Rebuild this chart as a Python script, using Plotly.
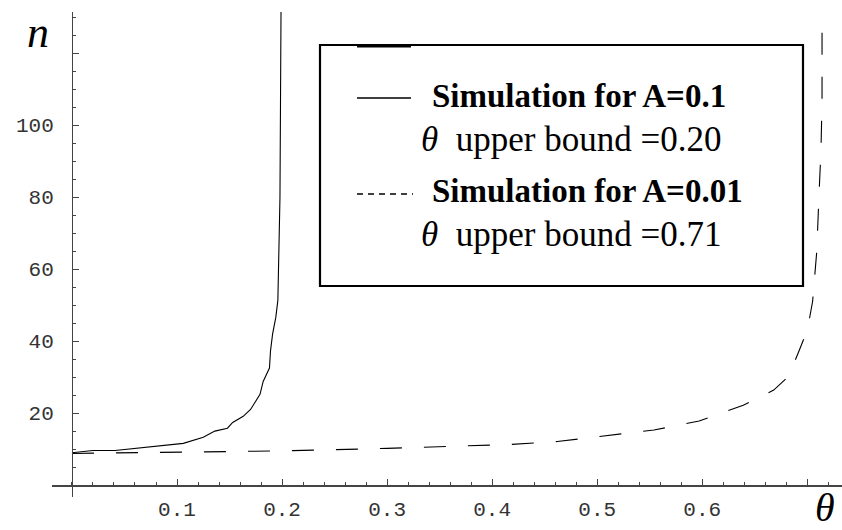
import plotly.graph_objects as go

# ---- data ----
theta_a = [0, 0.02, 0.041, 0.068, 0.106, 0.125, 0.136, 0.148, 0.153, 0.163, 0.170,
           0.179, 0.182, 0.188, 0.189, 0.191, 0.194, 0.196, 0.198, 0.199]
n_a = [9.0, 9.6, 9.6, 10.4, 11.6, 13.3, 15.0, 15.8, 17.4, 19.1, 21.0,
       25.2, 28.8, 32.5, 37.3, 42.0, 46.5, 51.3, 80.0, 132.0]

theta_b = [0, 0.1, 0.2, 0.3, 0.4, 0.418, 0.462, 0.508, 0.554, 0.597, 0.639, 0.668,
           0.682, 0.691, 0.700, 0.705, 0.709, 0.711, 0.713, 0.714, 0.714]
n_b = [8.8, 9.2, 9.5, 10.2, 11.0, 11.3, 12.1, 13.6, 15.3, 17.8, 22.2, 26.4,
       30.2, 36.5, 43.0, 51.0, 65.0, 80.0, 93.0, 107.0, 132.0]

x_tickvals = [0.1, 0.2, 0.3, 0.4, 0.5, 0.6, 0.7]
x_ticktext = ["0.1", "0.2", "0.3", "0.4", "0.5", "0.6", ""]
y_tickvals = [20, 40, 60, 80, 100, 120]
y_ticktext = ["20", "40", "60", "80", "100", ""]

legend_a = ["<b>Simulation for A=0.1</b>", "<i>θ</i>\u00a0\u00a0upper bound =0.20"]
legend_b = ["<b>Simulation for A=0.01</b>", "<i>θ</i>\u00a0\u00a0upper bound =0.71"]

# ---- layout geometry (pixels) ----
W, H = 842, 530
L, R, T, B = 52, 0, 12, 33
XMIN, XMAX = -0.019, 0.733
YMIN, YMAX = -3.3, 131.4
PW, PH = W - L - R, H - T - B


def px(x):
    return (x - L) / PW


def py(y):
    return (H - B - y) / PH


MONO = "Liberation Mono"
SERIF = "Liberation Serif"

fig = go.Figure()
fig.add_trace(go.Scatter(x=theta_a, y=n_a, mode="lines",
                         line=dict(color="black", width=1.1), showlegend=False))
fig.add_trace(go.Scatter(x=theta_b, y=n_b, mode="lines",
                         line=dict(color="black", width=1.1, dash="22px,22px"),
                         showlegend=False))

shapes = [
    dict(type="rect", xref="paper", yref="paper", x0=px(320), x1=px(803),
         y0=py(286), y1=py(45), line=dict(color="black", width=2.2)),
    dict(type="line", xref="paper", yref="paper", x0=px(357), x1=px(411),
         y0=py(46), y1=py(46), line=dict(color="black", width=3)),
    dict(type="line", xref="paper", yref="paper", x0=px(357), x1=px(411),
         y0=py(98), y1=py(98), line=dict(color="black", width=1.3)),
    dict(type="line", xref="paper", yref="paper", x0=px(357), x1=px(413),
         y0=py(194), y1=py(194), line=dict(color="black", width=1.3, dash="6px,5px")),
]

ann = []
for txt, x, y, size in [(legend_a[0], 430, 96, 33), (legend_a[1], 419, 139, 35),
                        (legend_b[0], 430, 191, 33), (legend_b[1], 419, 234, 35)]:
    ann.append(dict(text=txt, xref="paper", yref="paper", x=px(x), y=py(y),
                    xanchor="left", yanchor="middle", showarrow=False,
                    font=dict(family=SERIF, size=size, color="black")))
ann.append(dict(text="<i>n</i>", xref="paper", yref="paper", x=px(38), y=py(33),
                xanchor="center", yanchor="middle", showarrow=False,
                font=dict(family=SERIF, size=44, color="black")))
ann.append(dict(text="<i>θ</i>", xref="paper", yref="paper", x=px(825), y=py(508),
                xanchor="center", yanchor="middle", showarrow=False,
                font=dict(family=SERIF, size=40, color="black")))

fig.update_layout(
    template="none",
    width=W, height=H,
    margin=dict(l=L, r=R, t=T, b=B, pad=0, autoexpand=False),
    paper_bgcolor="white", plot_bgcolor="white",
    shapes=shapes, annotations=ann,
    xaxis=dict(range=[XMIN, XMAX], showgrid=False, zeroline=False, automargin=False,
               showline=True, linecolor="#444", linewidth=1.4,
               anchor="free", position=(0 - YMIN) / (YMAX - YMIN),
               ticks="inside", ticklen=6, tickcolor="#444", tickwidth=1,
               tickvals=x_tickvals, ticktext=x_ticktext, ticklabelstandoff=4,
               tickfont=dict(family=MONO, size=21, color="#333"),
               minor=dict(dtick=0.02, tick0=0, ticks="inside", ticklen=3,
                          tickcolor="#444", tickwidth=1)),
    yaxis=dict(range=[YMIN, YMAX], showgrid=False, zeroline=False, automargin=False,
               showline=True, linecolor="#444", linewidth=1.4,
               anchor="free", position=(0 - XMIN) / (XMAX - XMIN),
               ticks="inside", ticklen=6, tickcolor="#444", tickwidth=1,
               tickvals=y_tickvals, ticktext=y_ticktext, ticklabelstandoff=14,
               tickfont=dict(family=MONO, size=21, color="#333"),
               minor=dict(dtick=5, tick0=0, ticks="inside", ticklen=3,
                          tickcolor="#444", tickwidth=1)),
)

fig.write_html(
    "out.html",
    config={"displayModeBar": False, "staticPlot": True},
    post_script="document.body.style.margin='0px';document.body.style.overflow='hidden';",
)
